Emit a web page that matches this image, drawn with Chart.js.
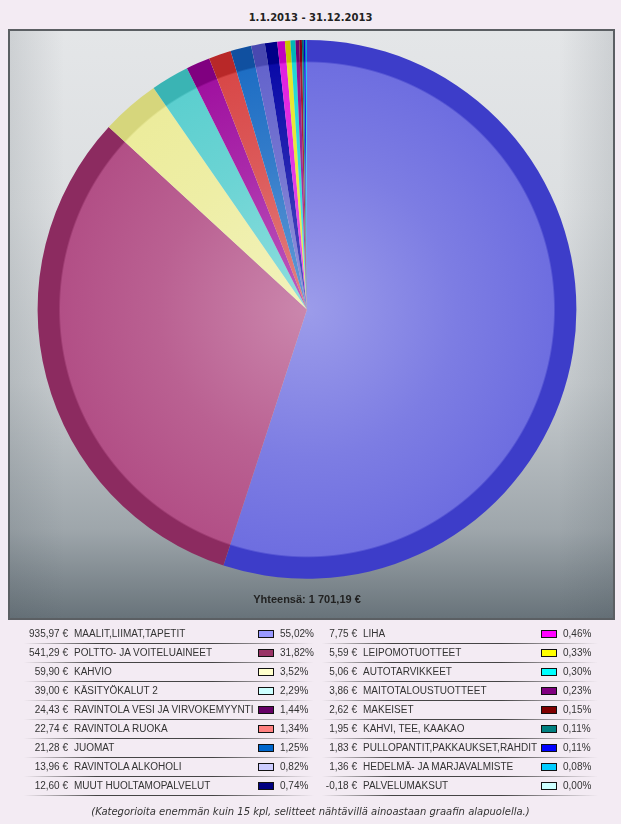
<!DOCTYPE html>
<html>
<head>
<meta charset="utf-8">
<script src="https://cdn.jsdelivr.net/npm/chart.js@4.4.1/dist/chart.umd.min.js"></script>
<style>
    body { margin: 0; background: #f3ebf3; font-family: "Liberation Sans", Arial, sans-serif; }
    #period { position: absolute; left: 0; top: 12px; width: 621px; text-align: center; font: bold 10px "DejaVu Sans", sans-serif; color: #222; }
    #box {
        position: absolute; left: 8px; top: 29px; width: 607px; height: 591px; box-sizing: border-box;
        border: 2px solid #5b5f63;
        background:
            linear-gradient(to right, rgba(70,80,88,0.14) 0%, rgba(70,80,88,0) 9%, rgba(70,80,88,0) 91%, rgba(70,80,88,0.14) 100%),
            linear-gradient(to bottom, #e4e6e8 0%, #dcdfe1 30%, #c6cbce 60%, #9ea6ab 85%, #68737a 100%);
    }
    #legend { position: absolute; left: 0; top: 0; width: 621px; height: 824px; pointer-events: none; }
    .txt { position: absolute; font-size: 10px; line-height: 19px; color: #333; white-space: nowrap; }
    .val { text-align: right; }
    .sw { position: absolute; width: 14px; height: 6px; border: 1px solid #111; }
    .sep { position: absolute; height: 1px; background: linear-gradient(to right, rgba(50,50,50,0), rgba(50,50,50,0.9) 25%, rgba(50,50,50,0.9) 65%, rgba(50,50,50,0)); }
    #note { position: absolute; left: 0; top: 806px; width: 621px; text-align: center; font: italic 10px "DejaVu Sans", sans-serif; color: #333; }
</style>
</head>
<body>
<div id="period">1.1.2013 - 31.12.2013</div>
<div id="box"><canvas id="pieChart"></canvas></div>
<div id="legend"></div>
<div id="note">(Kategorioita enemmän kuin 15 kpl, selitteet nähtävillä ainoastaan graafin alapuolella.)</div>

<script>
const categories = [
    'MAALIT,LIIMAT,TAPETIT', 'POLTTO- JA VOITELUAINEET', 'KAHVIO', 'KÄSITYÖKALUT 2',
    'RAVINTOLA VESI JA VIRVOKEMYYNTI', 'RAVINTOLA RUOKA', 'JUOMAT', 'RAVINTOLA ALKOHOLI',
    'MUUT HUOLTAMOPALVELUT', 'LIHA', 'LEIPOMOTUOTTEET', 'AUTOTARVIKKEET', 'MAITOTALOUSTUOTTEET',
    'MAKEISET', 'KAHVI, TEE, KAAKAO', 'PULLOPANTIT,PAKKAUKSET,RAHDIT', 'HEDELMÄ- JA MARJAVALMISTE',
    'PALVELUMAKSUT'
];
const amounts = [935.97, 541.29, 59.90, 39.00, 24.43, 22.74, 21.28, 13.96, 12.60, 7.75, 5.59, 5.06, 3.86, 2.62, 1.95, 1.83, 1.36, -0.18];

// legend swatch colours and the shaded slice colours seen in the pie
const swatchColors = ['#9999ff', '#993366', '#ffffcc', '#ccffff', '#660066', '#ff8080', '#0066cc', '#ccccff', '#000080',
    '#ff00ff', '#ffff00', '#00ffff', '#800080', '#800000', '#008080', '#0000ff', '#00ccff', '#ccffff'];
const sliceFill = ['#6e6ee0', '#b24f86', '#ecec9c', '#5ccfcf', '#a012a0', '#d84848', '#1e6ec4', '#6464cc', '#0a0aa8',
    '#e020e0', '#e6e628', '#20d6d6', '#901090', '#a01828', '#108888', '#1818e8', '#20c8f0', '#c0f0f0'];
const sliceRim = ['#3d3dc9', '#8c2b60', '#d6d67c', '#3ab4b4', '#800080', '#b82828', '#1050a0', '#4848b0', '#000088',
    '#c000c0', '#c6c600', '#00b6b6', '#700070', '#800010', '#006868', '#0000c8', '#00a8d8', '#a0d0d0'];

const pieValues = amounts.map(v => Math.max(v, 0));
const total = pieValues.reduce((a, b) => a + b, 0);

function fmtNum(v) {
    const s = Math.abs(v).toFixed(2).split('.');
    const int = s[0].replace(/\B(?=(\d{3})+(?!\d))/g, ' ');
    return (v < 0 ? '-' : '') + int + ',' + s[1];
}

function mix(hex, target, t) {
    const a = parseInt(hex.slice(1), 16);
    const r = (a >> 16) & 255, g = (a >> 8) & 255, b = a & 255;
    return `rgb(${Math.round(r + (target - r) * t)},${Math.round(g + (target - g) * t)},${Math.round(b + (target - b) * t)})`;
}

function sliceGradient(context) {
    const i = context.dataIndex;
    const chart = context.chart;
    const area = chart.chartArea;
    if (!area) return sliceFill[i];
    const cx = (area.left + area.right) / 2;
    const cy = (area.top + area.bottom) / 2;
    const r = Math.min(area.width, area.height) / 2;
    const g = chart.ctx.createRadialGradient(cx, cy, 0, cx, cy, r);
    g.addColorStop(0, mix(sliceFill[i], 255, 0.32));
    g.addColorStop(0.55, mix(sliceFill[i], 255, 0.1));
    g.addColorStop(0.915, sliceFill[i]);
    g.addColorStop(0.922, sliceRim[i]);
    g.addColorStop(1, sliceRim[i]);
    return g;
}

new Chart(document.getElementById('pieChart'), {
    type: 'pie',
    data: {
        labels: categories,
        datasets: [{
            data: pieValues,
            backgroundColor: sliceGradient,
            borderWidth: 0,
            hoverBorderWidth: 0,
            hoverOffset: 0
        }]
    },
    options: {
        responsive: true,
        maintainAspectRatio: false,
        animation: false,
        events: [],
        layout: { padding: { top: 9, right: 9, left: 0, bottom: 0 } },
        plugins: {
            legend: { display: false },
            tooltip: { enabled: false },
            title: {
                display: true,
                position: 'bottom',
                text: 'Yhteensä: ' + fmtNum(total) + ' €',
                color: '#222',
                font: { family: '"Liberation Sans", Arial, sans-serif', size: 11, weight: 'bold' },
                padding: { top: 15, bottom: 11 }
            }
        }
    }
});

// legend table under the chart, two columns of nine rows
const legend = document.getElementById('legend');
const cols = [
    { valEnd: 68, label: 74, box: 258, pct: 280, lineFrom: 24, lineTo: 314 },
    { valEnd: 357, label: 363, box: 541, pct: 563, lineFrom: 322, lineTo: 598 }
];
const perCol = 9;

categories.forEach((name, i) => {
    const c = cols[Math.floor(i / perCol)];
    const top = 624 + (i % perCol) * 19;
    const pct = (pieValues[i] / total * 100).toFixed(2).replace('.', ',') + '%';

    legend.insertAdjacentHTML('beforeend', `
        <div class="txt val" style="left:${c.valEnd - 60}px;width:60px;top:${top}px">${fmtNum(amounts[i])} €</div>
        <div class="txt" style="left:${c.label}px;top:${top}px">${name}</div>
        <div class="sw" style="left:${c.box}px;top:${top + 6}px;background:${swatchColors[i]}"></div>
        <div class="txt" style="left:${c.pct}px;top:${top}px">${pct}</div>
        <div class="sep" style="left:${c.lineFrom}px;width:${c.lineTo - c.lineFrom}px;top:${top + 19}px"></div>
    `);
});
</script>
</body>
</html>
